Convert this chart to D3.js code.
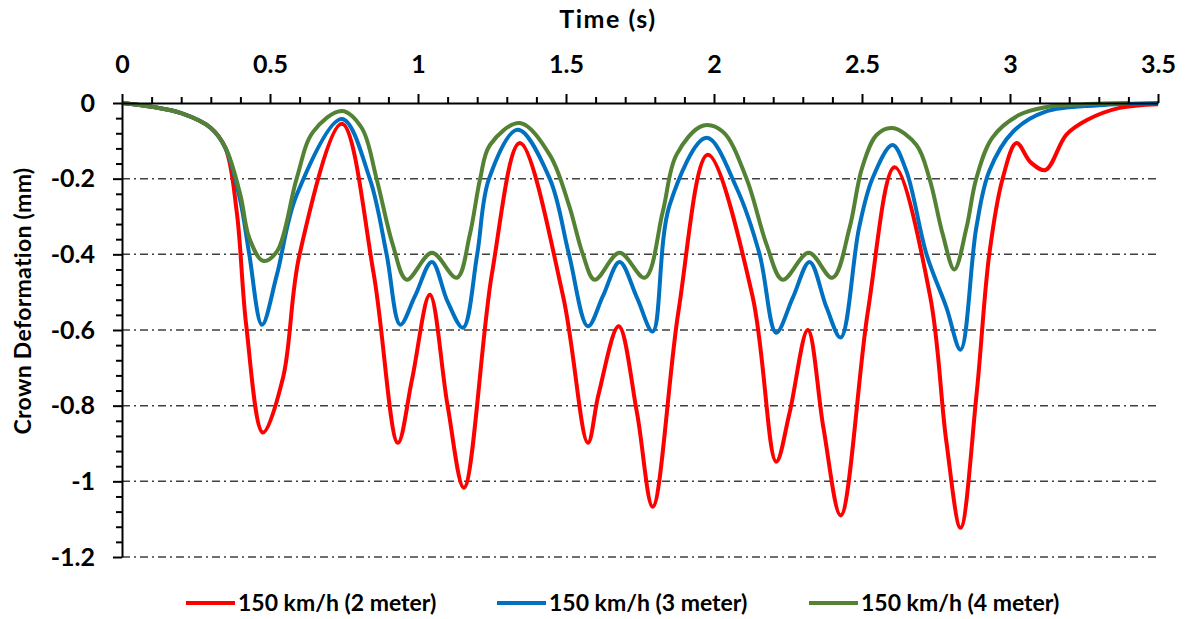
<!DOCTYPE html>
<html>
<head>
<meta charset="utf-8">
<script src="https://cdn.jsdelivr.net/npm/d3@7"></script>
<style>
  body { margin: 0; background: #fff; }
  svg text { font-family: Lato, "Open Sans", sans-serif; font-weight: bold; fill: #000; }
</style>
</head>
<body>
<div id="chart"></div>
<script>
// time (s) and crown deformation (mm)
const time2m = [0, 0.1, 0.2, 0.3, 0.35, 0.388, 0.42, 0.476, 0.544, 0.6, 0.743, 0.85, 0.932, 0.98, 1.04, 1.1, 1.155, 1.25, 1.344, 1.49, 1.574, 1.61, 1.678, 1.74, 1.793, 1.88, 1.979, 2.13, 2.21, 2.255, 2.317, 2.37, 2.428, 2.52, 2.61, 2.73, 2.785, 2.833, 2.887, 2.93, 2.975, 3.022, 3.07, 3.12, 3.19, 3.26, 3.37, 3.5];
const def2m = [0, -0.01, -0.027, -0.066, -0.12, -0.29, -0.59, -0.871, -0.726, -0.40, -0.055, -0.45, -0.898, -0.73, -0.507, -0.8, -1.017, -0.45, -0.106, -0.51, -0.898, -0.77, -0.59, -0.82, -1.067, -0.55, -0.137, -0.51, -0.948, -0.82, -0.60, -0.86, -1.09, -0.55, -0.17, -0.51, -0.895, -1.123, -0.77, -0.40, -0.2, -0.106, -0.157, -0.177, -0.084, -0.045, -0.013, -0.003];

const time3m = [0, 0.1, 0.2, 0.3, 0.35, 0.4, 0.43, 0.473, 0.523, 0.59, 0.743, 0.837, 0.894, 0.94, 0.99, 1.047, 1.10, 1.152, 1.2, 1.24, 1.337, 1.445, 1.51, 1.574, 1.625, 1.681, 1.74, 1.793, 1.85, 1.975, 2.076, 2.154, 2.21, 2.266, 2.323, 2.38, 2.428, 2.49, 2.535, 2.603, 2.65, 2.718, 2.785, 2.833, 2.886, 2.93, 3.01, 3.12, 3.3, 3.5];
const def3m = [0, -0.01, -0.027, -0.066, -0.12, -0.26, -0.40, -0.586, -0.455, -0.243, -0.042, -0.2, -0.40, -0.586, -0.51, -0.42, -0.525, -0.594, -0.40, -0.2, -0.071, -0.2, -0.40, -0.59, -0.51, -0.42, -0.515, -0.604, -0.27, -0.092, -0.224, -0.40, -0.607, -0.515, -0.42, -0.54, -0.62, -0.33, -0.2, -0.111, -0.18, -0.40, -0.54, -0.652, -0.33, -0.18, -0.076, -0.023, -0.006, 0];

const time4m = [0, 0.1, 0.2, 0.3, 0.35, 0.4, 0.43, 0.476, 0.523, 0.59, 0.645, 0.743, 0.81, 0.86, 0.915, 0.962, 1.047, 1.131, 1.175, 1.21, 1.243, 1.344, 1.445, 1.51, 1.557, 1.597, 1.681, 1.766, 1.827, 1.873, 1.962, 2.03, 2.11, 2.178, 2.232, 2.32, 2.40, 2.458, 2.50, 2.55, 2.603, 2.684, 2.728, 2.773, 2.812, 2.853, 2.886, 2.94, 3.03, 3.12, 3.25, 3.4];
const def4m = [0, -0.01, -0.027, -0.066, -0.119, -0.243, -0.357, -0.417, -0.393, -0.2, -0.077, -0.021, -0.066, -0.2, -0.375, -0.467, -0.396, -0.462, -0.348, -0.2, -0.111, -0.053, -0.137, -0.27, -0.40, -0.467, -0.396, -0.462, -0.287, -0.137, -0.06, -0.076, -0.2, -0.375, -0.467, -0.396, -0.462, -0.33, -0.172, -0.084, -0.066, -0.111, -0.2, -0.348, -0.44, -0.33, -0.2, -0.092, -0.032, -0.011, -0.003, 0];

const seriesNames = ["150 km/h (2 meter)", "150 km/h (3 meter)", "150 km/h (4 meter)"];
const seriesColors = ["#FF0000", "#0070C0", "#548235"];
const xTicks = [0, 0.5, 1, 1.5, 2, 2.5, 3, 3.5];
const yTicks = [0, -0.2, -0.4, -0.6, -0.8, -1, -1.2];

const width = 1186, height = 619;
const margin = {top: 103, right: 28, bottom: 62, left: 122};

const svg = d3.select("#chart").append("svg")
  .attr("width", width)
  .attr("height", height);

const x = d3.scaleLinear().domain([0, 3.5]).range([margin.left, width - margin.right]);
const y = d3.scaleLinear().domain([-1.2, 0]).range([height - margin.bottom, margin.top]);

// dash-dot gridlines
svg.append("g")
  .selectAll("line")
  .data(yTicks.filter(d => d !== 0))
  .join("line")
    .attr("x1", x(0)).attr("x2", x(3.5))
    .attr("y1", d => y(d)).attr("y2", d => y(d))
    .attr("stroke", "#404040")
    .attr("stroke-width", 1.5)
    .attr("stroke-dasharray", "8,4,2,4");

// series (smoothed like the spreadsheet lines)
const lineGen = d3.line()
  .x(d => x(d[0]))
  .y(d => y(d[1]))
  .curve(d3.curveCatmullRom.alpha(0.5));

const allSeries = [
  d3.zip(time2m, def2m),
  d3.zip(time3m, def3m),
  d3.zip(time4m, def4m)
];

svg.append("g")
  .selectAll("path")
  .data(allSeries)
  .join("path")
    .attr("d", d => lineGen(d))
    .attr("fill", "none")
    .attr("stroke", (d, i) => seriesColors[i])
    .attr("stroke-width", 4)
    .attr("stroke-linejoin", "round");

const fmt = d => String(d);

// top x axis with minor ticks
const xMinor = d3.range(0, 36).map(i => i / 10).filter(v => Math.abs(v * 2 - Math.round(v * 2)) > 1e-6);
svg.append("g")
  .attr("transform", `translate(0,${y(0)})`)
  .call(d3.axisTop(x).tickValues(xMinor).tickSize(6).tickFormat(""))
  .call(g => g.select(".domain").remove())
  .call(g => g.selectAll("line").attr("stroke-width", 2));

svg.append("g")
  .attr("transform", `translate(0,${y(0)})`)
  .call(d3.axisTop(x).tickValues(xTicks).tickSize(9).tickSizeOuter(0).tickPadding(21).tickFormat(fmt))
  .call(g => g.select(".domain").attr("stroke-width", 2))
  .call(g => g.selectAll("line").attr("stroke-width", 2))
  .call(g => g.selectAll("text").attr("font-size", 25));

// left y axis with minor ticks
const yMinor = d3.range(0, 31).map(i => -i * 0.04).filter(v => Math.abs(v * 5 - Math.round(v * 5)) > 1e-6);
svg.append("g")
  .attr("transform", `translate(${x(0)},0)`)
  .call(d3.axisLeft(y).tickValues(yMinor).tickSize(6).tickFormat(""))
  .call(g => g.select(".domain").remove())
  .call(g => g.selectAll("line").attr("stroke-width", 2));

svg.append("g")
  .attr("transform", `translate(${x(0)},0)`)
  .call(d3.axisLeft(y).tickValues(yTicks).tickSize(9).tickSizeOuter(0).tickPadding(18).tickFormat(fmt))
  .call(g => g.select(".domain").attr("stroke-width", 2))
  .call(g => g.selectAll("line").attr("stroke-width", 2))
  .call(g => g.selectAll("text").attr("font-size", 25));

// axis titles
svg.append("text")
  .attr("x", 608)
  .attr("y", 28)
  .attr("text-anchor", "middle")
  .attr("font-size", 25)
  .attr("letter-spacing", 1.5)
  .text("Time (s)");

svg.append("text")
  .attr("transform", "translate(31,301) rotate(-90)")
  .attr("text-anchor", "middle")
  .attr("font-size", 23)
  .attr("letter-spacing", 0.3)
  .text("Crown Deformation (mm)");

// legend
const legendX = [186, 497, 809];
const legend = svg.append("g")
  .selectAll("g")
  .data(seriesNames)
  .join("g")
    .attr("transform", (d, i) => `translate(${legendX[i]},603)`);

legend.append("line")
  .attr("x1", 0).attr("x2", 49)
  .attr("stroke", (d, i) => seriesColors[i])
  .attr("stroke-width", 4);

legend.append("text")
  .attr("x", 52)
  .attr("dy", "0.35em")
  .attr("font-size", 23)
  .text(d => d);
</script>
</body>
</html>
